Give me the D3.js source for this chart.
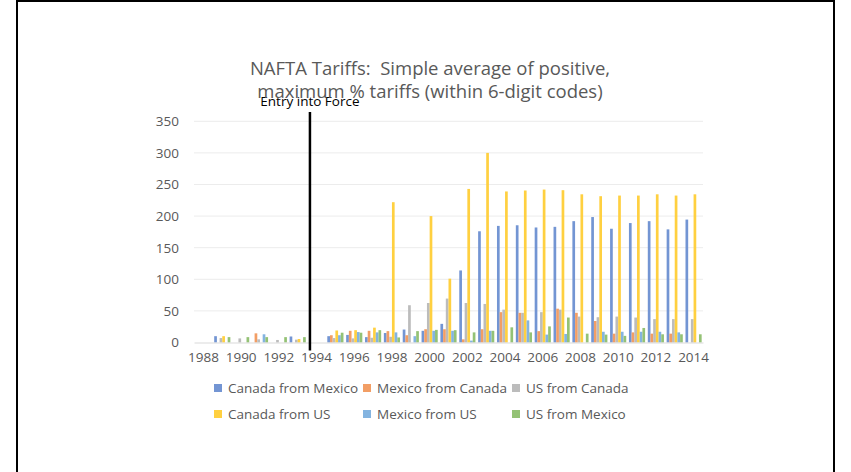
<!DOCTYPE html>
<html>
<head>
<meta charset="utf-8">
<title>NAFTA Tariffs</title>
<script src="https://d3js.org/d3.v7.min.js"></script>
<style>
  body { margin: 0; background: #fff; }
  svg text { font-family: "Open Sans", "DejaVu Sans", sans-serif; }
</style>
</head>
<body>
<div id="chart"></div>
<script>
// years on the category axis
var years = d3.range(1988, 2015).map(String);
var yearLabels = years.filter(function(y, i) { return i % 2 === 0; });
var yTicks = [0, 50, 100, 150, 200, 250, 300, 350];

var seriesNames = ["Canada from Mexico", "Mexico from Canada", "US from Canada",
                   "Canada from US", "Mexico from US", "US from Mexico"];

// values, null = no bar
//                     1988  1989  1990  1991  1992  1993  1994  1995  1996  1997  1998  1999  2000  2001  2002  2003  2004  2005  2006  2007  2008  2009  2010  2011  2012  2013  2014
var canadaFromMexico = [null, 10,   null, null, null, 9.5,  null, 10,   12,   8.5,  15,   20.5, 18.5, 29.5, 114,  176,  184.5,185.5,182,  183,  192,  198.5,180,  189,  192,  179,  194.5];
var mexicoFromCanada = [null, null, null, 14.5, null, null, null, 11.5, 18.5, 18.5, 18,   11.5, 21,   21,   5,    21,   48,   47,   18,   53.5, 47,   34,   14,   16,   14,   14,   null];
var usFromCanada     = [null, 7,    6.5,  5,    4,    4.5,  null, 7,    6.5,  7.5,  9,    59,   62.5, 69.5, 62.5, 61,   52,   47,   48,   52,   41,   40,   41,   39.5, 37,   37,   37];
var canadaFromUS     = [null, 10,   null, null, null, 5.5,  null, 19,   19.5, 23.5, 222,  null, 200,  101,  243,  300,  239,  240.5,242,  241,  234.5,231.5,232.5,232.5,234.5,232.5,234.5];
var mexicoFromUS     = [null, null, null, 13,   null, null, null, 11.5, 16.5, 16,   16,   10,   18.5, 18.5, 3,    18.5, null, 35,   12.5, 13.5, null, 17,   17,   17,   17,   16,   null];
var usFromMexico     = [null, 8.5,  8.5,  8.5,  8.5,  8.5,  null, 15.5, 15.5, 19.5, 8,    18,   20,   19.5, 16,   18.5, 24,   16,   25.5, 39.5, 14,   12.5, 10.5, 23,   13,   13,   13];

var seriesValues = [canadaFromMexico, mexicoFromCanada, usFromCanada,
                    canadaFromUS, mexicoFromUS, usFromMexico];
var colors = ["#7395d3", "#f29e65", "#bcbcbc", "#ffd040", "#84b4e0", "#94c275"];
var entryYear = "1994";

var W = 851, H = 472;
var plot = {left: 194, right: 703, top: 121.3, bottom: 342.5};

var svg = d3.select("#chart").append("svg")
    .attr("width", W)
    .attr("height", H);

// slide frame
svg.append("rect")
    .attr("x", 17).attr("y", 1)
    .attr("width", 817).attr("height", 490)
    .attr("fill", "none")
    .attr("stroke", "#000")
    .attr("stroke-width", 2);

var x = d3.scaleBand()
    .domain(years)
    .range([plot.left, plot.right])
    .paddingInner(0)
    .paddingOuter(0);

var x1 = d3.scaleBand()
    .domain(d3.range(seriesNames.length))
    .range([0, x.bandwidth()])
    .paddingOuter(0.5)
    .paddingInner(0);

var y = d3.scaleLinear()
    .domain([0, 350])
    .range([plot.bottom, plot.top]);

// gridlines
svg.append("g")
    .selectAll("line")
    .data(yTicks.slice(1))
    .enter()
    .append("line")
    .attr("x1", plot.left).attr("x2", plot.right)
    .attr("y1", function(d) { return y(d); })
    .attr("y2", function(d) { return y(d); })
    .attr("stroke", "#ececec")
    .attr("stroke-width", 1);

// y axis labels
var yAxis = svg.append("g")
    .attr("transform", "translate(" + plot.left + ",0)")
    .call(d3.axisLeft(y).tickValues(yTicks).tickSize(0).tickPadding(15));
yAxis.select(".domain").remove();
yAxis.selectAll("text")
    .attr("fill", "#595959")
    .style("font-size", "13.5px");

// bars
var rows = years.map(function(yr, i) {
    return seriesValues.map(function(s, k) { return {year: yr, k: k, v: s[i]}; });
});

svg.append("g")
    .selectAll("g")
    .data(rows)
    .enter()
    .append("g")
    .attr("transform", function(d, i) { return "translate(" + x(years[i]) + ",0)"; })
    .selectAll("rect")
    .data(function(d) { return d.filter(function(e) { return e.v != null; }); })
    .enter()
    .append("rect")
    .attr("x", function(d) { return x1(d.k); })
    .attr("width", x1.bandwidth())
    .attr("y", function(d) { return y(d.v); })
    .attr("height", function(d) { return y(0) - y(d.v); })
    .attr("fill", function(d) { return colors[d.k]; });

// x axis
var xAxis = svg.append("g")
    .attr("transform", "translate(0," + plot.bottom + ")")
    .call(d3.axisBottom(x).tickValues(yearLabels).tickSize(0).tickPadding(10));
xAxis.select(".domain").attr("stroke", "#d9d9d9");
xAxis.selectAll("text")
    .attr("fill", "#595959")
    .style("font-size", "13.5px");

// entry into force marker
var ex = x(entryYear) + x.step() * 0.15;
svg.append("line")
    .attr("x1", ex).attr("x2", ex)
    .attr("y1", 112).attr("y2", y(0) + 8)
    .attr("stroke", "#000")
    .attr("stroke-width", 2.5);

svg.append("text")
    .attr("x", ex)
    .attr("y", 106)
    .attr("text-anchor", "middle")
    .attr("fill", "#000")
    .style("font-size", "13.5px")
    .text("Entry into Force");

// title
var title = svg.append("text")
    .attr("x", 430)
    .attr("y", 75)
    .attr("text-anchor", "middle")
    .attr("fill", "#595959")
    .style("font-size", "18.5px")
    .style("white-space", "pre");
title.append("tspan").attr("x", 430).attr("dy", 0)
    .text("NAFTA Tariffs:  Simple average of positive,");
title.append("tspan").attr("x", 430).attr("dy", 23)
    .text("maximum % tariffs (within 6-digit codes)");

// legend
var legend = svg.append("g");
var item = legend.selectAll("g")
    .data(seriesNames)
    .enter()
    .append("g")
    .attr("transform", function(d, i) {
        return "translate(" + (214 + (i % 3) * 149) + "," + (388 + Math.floor(i / 3) * 26) + ")";
    });
item.append("rect")
    .attr("x", 0).attr("y", -4)
    .attr("width", 8).attr("height", 8)
    .attr("fill", function(d, i) { return colors[i]; });
item.append("text")
    .attr("x", 14)
    .attr("y", 0)
    .attr("dy", "0.35em")
    .attr("fill", "#595959")
    .style("font-size", "13.5px")
    .text(function(d) { return d; });
</script>
</body>
</html>
